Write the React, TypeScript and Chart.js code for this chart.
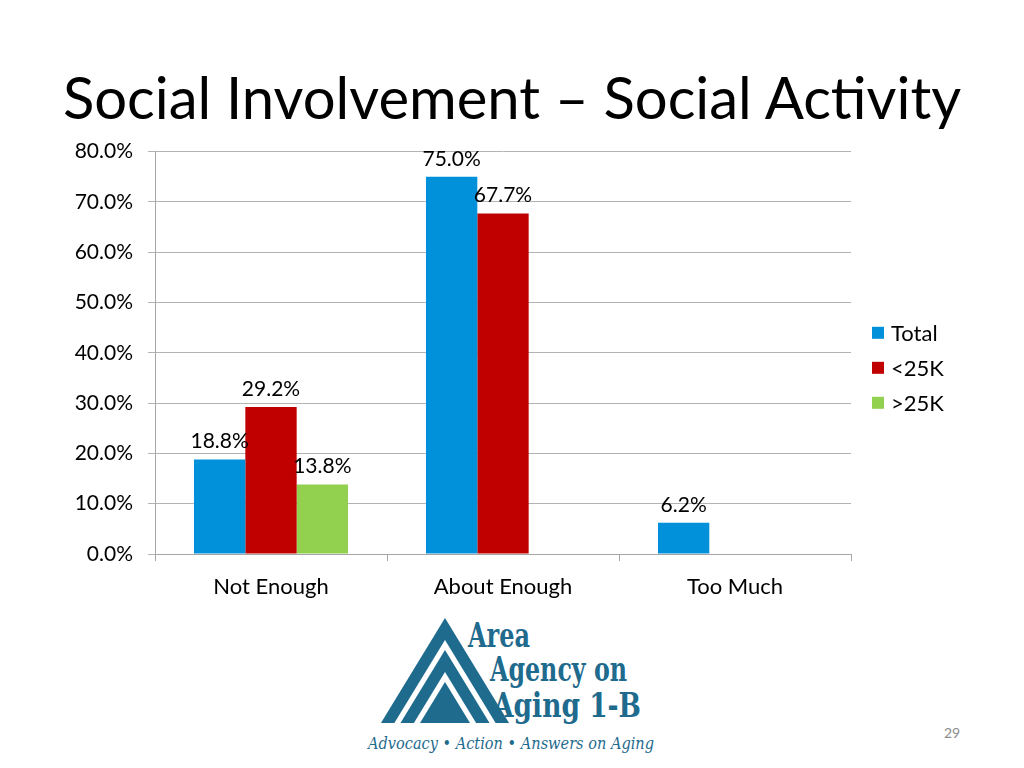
import React, { useEffect, useRef, useState } from "react";
import { Chart, registerables } from "chart.js";

Chart.register(...registerables);

const categories = ["Not Enough", "About Enough", "Too Much"];
const seriesNames = ["Total", "<25K", ">25K"];
const totalValues = [18.8, 75.0, 6.2];
const under25kValues = [29.2, 67.7, null];
const over25kValues = [13.8, null, null];
const seriesColors = ["#0091DA", "#C00000", "#92D050"];
const yMin = 0;
const yMax = 80;
const yStep = 10;

const FONT = "Lato, 'Open Sans', sans-serif";

const valueLabels = {
  id: "valueLabels",
  afterDatasetsDraw(chart: any) {
    const ctx = chart.ctx;
    ctx.save();
    ctx.font = `21px ${FONT}`;
    ctx.fillStyle = "#000";
    ctx.textAlign = "center";
    ctx.textBaseline = "middle";
    chart.data.datasets.forEach((ds: any, i: number) => {
      const meta = chart.getDatasetMeta(i);
      meta.data.forEach((el: any, j: number) => {
        const v = ds.data[j];
        if (v === null || v === undefined) return;
        ctx.fillText(`${Number(v).toFixed(1)}%`, el.x, el.y - 18);
      });
    });
    ctx.restore();
  },
};

const sideLegend = {
  id: "sideLegend",
  afterDraw(chart: any) {
    const ctx = chart.ctx;
    const area = chart.chartArea;
    const n = chart.data.datasets.length;
    const gap = 35;
    const midY = (area.top + area.bottom) / 2 + 15;
    const x0 = area.right + 21;
    ctx.save();
    ctx.font = `22px ${FONT}`;
    ctx.textAlign = "left";
    ctx.textBaseline = "middle";
    chart.data.datasets.forEach((ds: any, i: number) => {
      const cy = midY + (i - (n - 1) / 2) * gap;
      ctx.fillStyle = ds.backgroundColor;
      ctx.fillRect(x0, cy - 6, 12, 12);
      ctx.fillStyle = "#000";
      ctx.fillText(ds.label, x0 + 19, cy + 1);
    });
    ctx.restore();
  },
};

function ChartCanvas() {
  const ref = useRef<HTMLCanvasElement>(null);
  const [err, setErr] = useState("");
  useEffect(() => {
    if (!ref.current) return;
    let chart: any = null;
    try {
      chart = new Chart(ref.current, {
        type: "bar",
        data: {
          labels: categories,
          datasets: [
            { label: seriesNames[0], data: totalValues, backgroundColor: seriesColors[0] },
            { label: seriesNames[1], data: under25kValues, backgroundColor: seriesColors[1] },
            { label: seriesNames[2], data: over25kValues, backgroundColor: seriesColors[2] },
          ],
        },
        options: {
          animation: false,
          responsive: false,
          maintainAspectRatio: false,
          layout: { padding: { top: 16, right: 173, left: 0, bottom: 0 } },
          categoryPercentage: 0.664,
          barPercentage: 1,
          plugins: {
            legend: { display: false },
            tooltip: { enabled: false },
            title: { display: false },
          },
          scales: {
            x: {
              offset: true,
              grid: {
                offset: true,
                drawOnChartArea: false,
                drawTicks: true,
                tickLength: 7,
                color: "#A6A6A6",
              },
              border: { display: true, color: "#A6A6A6" },
              ticks: { font: { family: FONT, size: 22 }, color: "#000", padding: 13 },
              afterFit: (axis: any) => {
                axis.height = 56;
              },
            },
            y: {
              min: yMin,
              max: yMax,
              ticks: {
                stepSize: yStep,
                font: { family: FONT, size: 21 },
                color: "#000",
                padding: 15,
                callback: (v: any) => `${Number(v).toFixed(1)}%`,
              },
              grid: { color: "#B3B3B3", tickLength: 7 },
              border: { display: true, color: "#A6A6A6" },
              afterFit: (axis: any) => {
                axis.width = 155;
              },
            },
          },
        } as any,
        plugins: [valueLabels, sideLegend],
      } as any);
    } catch (e: any) {
      setErr(String(e && e.stack ? e.stack : e));
    }
    return () => {
      if (chart) chart.destroy();
    };
  }, []);
  return (
    <>
      <canvas
        ref={ref}
        width={1024}
        height={486}
        style={{ position: "absolute", left: 0, top: 124, width: 1024, height: 486 }}
      />
      {err ? (
        <pre style={{ position: "absolute", left: 0, top: 0, fontSize: 10, color: "red" }}>{err}</pre>
      ) : null}
    </>
  );
}

function Logo() {
  const teal = "#1F6B8E";
  const tri = (apex: number, color: string) => {
    const base = 113;
    const hw = (base - apex) * 0.61;
    return (
      <polygon
        points={`${85 - hw},${base} 85,${apex} ${85 + hw},${base}`}
        fill={color}
      />
    );
  };
  return (
    <svg
      width={320}
      height={150}
      viewBox="0 0 320 150"
      style={{ position: "absolute", left: 360, top: 610 }}
    >
      {tri(8, teal)}
      {tri(30, "#fff")}
      {tri(40, teal)}
      {tri(62, "#fff")}
      {tri(72, teal)}
      <g fill={teal} fontFamily="'DejaVu Serif', 'Liberation Serif', serif" fontWeight="bold">
        <text x={108} y={37} fontSize={34} textLength={62} lengthAdjust="spacingAndGlyphs">Area</text>
        <text x={130} y={71} fontSize={34} textLength={137} lengthAdjust="spacingAndGlyphs">Agency on</text>
        <text x={133} y={107} fontSize={34} textLength={148} lengthAdjust="spacingAndGlyphs">Aging 1-B</text>
      </g>
      <text
        x={8}
        y={139}
        fill={teal}
        fontFamily="'DejaVu Serif', 'Liberation Serif', serif"
        fontStyle="italic"
        fontSize={17}
        textLength={286}
        lengthAdjust="spacingAndGlyphs"
      >
        Advocacy • Action • Answers on Aging
      </text>
    </svg>
  );
}

export default function App() {
  return (
    <div>
      <div
        style={{
          position: "absolute",
          left: 0,
          top: 59,
          width: 1024,
          textAlign: "center",
          fontFamily: FONT,
          fontSize: 58,
          lineHeight: "76px",
          color: "#000",
          whiteSpace: "nowrap",
        }}
      >
        Social Involvement – Social Activity
      </div>
      <ChartCanvas />
      <Logo />
      <div
        style={{
          position: "absolute",
          left: 944,
          top: 724,
          fontFamily: FONT,
          fontSize: 14,
          color: "#8C8C8C",
        }}
      >
        29
      </div>
    </div>
  );
}
